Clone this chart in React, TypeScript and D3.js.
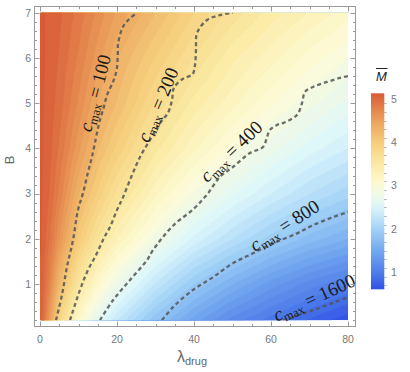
import * as d3 from 'd3';
import { useMemo } from 'react';

// grid of the density plot
const lambdaGrid = [0, 2.5, 5, 10, 15, 20, 30, 40, 50, 60, 70, 80];
const bGrid = [0.2, 1, 2, 3, 4, 5, 6, 7];
const mBarRows = [
  [5.13, 4.5, 3.85, 3.1, 2.65, 2.3, 1.82, 1.45, 1.15, 0.95, 0.78, 0.63],
  [5.13, 4.73, 4.23, 3.55, 3.11, 2.78, 2.28, 1.9, 1.6, 1.35, 1.15, 1.0],
  [5.13, 4.9, 4.59, 4.02, 3.61, 3.29, 2.84, 2.47, 2.2, 1.95, 1.75, 1.6],
  [5.13, 4.99, 4.77, 4.3, 3.97, 3.66, 3.22, 2.89, 2.62, 2.4, 2.2, 2.04],
  [5.13, 5.03, 4.88, 4.53, 4.21, 3.97, 3.53, 3.22, 2.96, 2.74, 2.55, 2.4],
  [5.13, 5.05, 4.95, 4.68, 4.39, 4.19, 3.78, 3.46, 3.23, 3.01, 2.83, 2.67],
  [5.13, 5.07, 4.99, 4.78, 4.54, 4.31, 3.99, 3.69, 3.42, 3.24, 3.05, 2.9],
  [5.13, 5.07, 5.02, 4.86, 4.67, 4.48, 4.2, 3.9, 3.66, 3.45, 3.29, 3.14],
];

// c_max contour lines, [lambda, B]
const cmax100 = [[4.16, 0.2], [5.71, 0.76], [7.01, 1.38], [8.57, 1.97], [9.87, 2.64], [11.17, 3.01], [12.47, 3.48], [13.5, 3.81], [14.8, 4.34], [15.58, 4.63], [16.6, 4.92], [17.4, 5.18], [18.96, 5.47], [19.9, 5.73], [20.2, 6.07], [20.3, 6.33], [21.56, 6.69], [23.4, 6.88], [25.2, 7.0]];
const cmax200 = [[7.79, 0.2], [10.39, 0.87], [12.47, 1.31], [14.55, 1.64], [16.62, 2.02], [18.18, 2.26], [20.0, 2.64], [21.56, 2.92], [23.9, 3.41], [25.97, 3.81], [28.57, 4.19], [31.17, 4.56], [33.25, 4.79], [34.29, 5.07], [34.8, 5.34], [37.14, 5.54], [39.6, 5.64], [40.26, 5.84], [40.52, 6.18], [40.78, 6.55], [43.38, 6.84], [46.75, 6.95], [50.13, 7.0]];
const cmax400 = [[15.58, 0.2], [18.96, 0.64], [23.38, 1.09], [27.8, 1.53], [29.35, 1.75], [34.55, 2.29], [39.74, 2.65], [43.38, 2.98], [46.75, 3.37], [50.13, 3.59], [54.55, 3.9], [57.92, 4.03], [58.96, 4.25], [59.74, 4.41], [61.56, 4.52], [63.1, 4.56], [66.75, 4.74], [68.05, 5.0], [68.83, 5.25], [70.9, 5.36], [74.55, 5.47], [77.92, 5.56], [80, 5.6]];
const cmax800 = [[31.69, 0.2], [34.55, 0.49], [39.74, 0.87], [44.94, 1.15], [50.13, 1.46], [55.32, 1.68], [60.52, 1.9], [66.75, 2.12], [70.9, 2.3], [76.1, 2.48], [80, 2.59]];
const cmax1600 = [[63.1, 0.2], [70.9, 0.42], [80, 0.71]];

const contourSeries = [
  { c: 100, pts: cmax100 },
  { c: 200, pts: cmax200 },
  { c: 400, pts: cmax400 },
  { c: 800, pts: cmax800 },
  { c: 1600, pts: cmax1600 },
];

const xMajor = [0, 20, 40, 60, 80];
const yMajor = [1, 2, 3, 4, 5, 6, 7];
const barMajor = [1, 2, 3, 4, 5];

// label placement (layout, not data)
const labelSpots = [
  { c: 100, lam: 14.5, b: 5.22, angle: -75 },
  { c: 200, lam: 30.8, b: 4.96, angle: -67 },
  { c: 400, lam: 49.8, b: 3.92, angle: -44 },
  { c: 800, lam: 63.6, b: 2.28, angle: -32.5 },
  { c: 1600, lam: 71.3, b: 0.68, angle: -24.6 },
];

const colorValues = [0.61, 1.0, 1.5, 2.0, 2.5, 3.0, 3.5, 4.0, 4.5, 5.13];
const colorHexes = ['#3151e7', '#4f7ee9', '#72a8ef', '#a2d2f6', '#dbf6fb', '#fdfcd8', '#fbeaa3', '#f5cd7b', '#eba15c', '#d95b36'];

const x = d3.scaleLinear().domain([0, 80]).range([40, 348]);
const y = d3.scaleLinear().domain([0.2, 7]).range([320.2, 12.8]);
const cb = d3.scaleLinear().domain([0.61, 5.13]).range([289.3, 93.3]);
const color = d3.scaleLinear<string>().domain(colorValues).range(colorHexes).interpolate(d3.interpolateRgb).clamp(true);

const frame = { left: 34.5, right: 355.5, top: 6.5, bottom: 326.5 };
const tickFont = 'Liberation Sans, Arial, sans-serif';
const serif = 'Liberation Serif, Times New Roman, serif';

function mBarAt(lam: number, b: number) {
  const i = Math.max(0, Math.min(lambdaGrid.length - 2, d3.bisectRight(lambdaGrid, lam) - 1));
  const j = Math.max(0, Math.min(bGrid.length - 2, d3.bisectRight(bGrid, b) - 1));
  const tx = (lam - lambdaGrid[i]) / (lambdaGrid[i + 1] - lambdaGrid[i]);
  const ty = (b - bGrid[j]) / (bGrid[j + 1] - bGrid[j]);
  const r0 = mBarRows[j];
  const r1 = mBarRows[j + 1];
  const v0 = r0[i] * (1 - tx) + r0[i + 1] * tx;
  const v1 = r1[i] * (1 - tx) + r1[i + 1] * tx;
  return v0 * (1 - ty) + v1 * ty;
}

const NX = 154;
const NY = 154;

export default function App() {
  const bands = useMemo(() => {
    const [x0, x1] = x.range();
    const [y1, y0] = y.range();
    const values = new Array(NX * NY);
    for (let gy = 0; gy < NY; gy++) {
      const b = y.invert(y0 + ((gy + 0.5) / NY) * (y1 - y0));
      for (let gx = 0; gx < NX; gx++) {
        const lam = x.invert(x0 + ((gx + 0.5) / NX) * (x1 - x0));
        values[gy * NX + gx] = mBarAt(lam, b);
      }
    }
    const levels = d3.range(0.7, 5.15, 0.1);
    return d3.contours().size([NX, NY]).thresholds(levels)(values);
  }, []);

  const geo = d3.geoPath();
  const line = d3.line<number[]>().x((d) => x(d[0])).y((d) => y(d[1])).curve(d3.curveCatmullRom.alpha(0.5));

  const [px0, px1] = x.range();
  const [py1, py0] = y.range();
  const sx = (px1 - px0) / NX;
  const sy = (py1 - py0) / NY;

  const xMinor = d3.range(0, 81, 5).filter((v) => !xMajor.includes(v));
  const yMinor = d3.range(2, 71, 2).map((v) => v / 10).filter((v) => !Number.isInteger(v));
  const barTicks = d3.range(7, 51, 2).map((v) => v / 10);

  const gradStops = d3.range(0, 21).map((k) => {
    const v = 0.61 + (k / 20) * (5.13 - 0.61);
    return { off: k / 20, col: color(v) };
  });

  return (
    <svg width={410} height={372} style={{ position: 'absolute', left: 0, top: 0, background: '#fff' }}>
      <defs>
        <linearGradient id="mbar-grad" x1="0" y1="1" x2="0" y2="0">
          {gradStops.map((s) => (
            <stop key={s.off} offset={s.off} stopColor={s.col} />
          ))}
        </linearGradient>
        <clipPath id="plot-clip">
          <rect x={px0} y={py0} width={px1 - px0} height={py1 - py0} />
        </clipPath>
      </defs>

      <g clipPath="url(#plot-clip)">
        <rect x={px0} y={py0} width={px1 - px0} height={py1 - py0} fill={color(0.65)} />
        <g transform={`translate(${px0},${py0}) scale(${sx},${sy})`}>
          {bands.map((band) => (
            <path key={band.value} d={geo(band as any) || ''} fill={color(band.value + 0.05)} stroke={color(band.value + 0.05)} strokeWidth={0.3} />
          ))}
        </g>
        {contourSeries.map((s) => (
          <path key={s.c} d={line(s.pts) || ''} fill="none" stroke="#555" strokeOpacity={0.85} strokeWidth={2.3} strokeDasharray="4 3" />
        ))}
      </g>

      {labelSpots.map((l) => (
        <text key={l.c} transform={`translate(${x(l.lam)},${y(l.b)}) rotate(${l.angle})`} y={5.5} textAnchor="middle" fontFamily={serif} fontSize={19} fill="#1a1a1a">
          <tspan fontStyle="italic">c</tspan>
          <tspan fontSize={12.5} dy={3.5}>max</tspan>
          <tspan dy={-3.5}>{` = ${l.c}`}</tspan>
        </text>
      ))}

      {/* frame */}
      <rect x={frame.left} y={frame.top} width={frame.right - frame.left} height={frame.bottom - frame.top} fill="none" stroke="#9a9a9a" strokeWidth={1} />
      {xMajor.concat(xMinor).map((v) => {
        const len = xMajor.includes(v) ? 5 : 2.5;
        const px = Math.round(x(v)) + 0.5;
        return (
          <g key={`xt${v}`} stroke="#9a9a9a">
            <line x1={px} x2={px} y1={frame.bottom} y2={frame.bottom - len} />
            <line x1={px} x2={px} y1={frame.top} y2={frame.top + len} />
          </g>
        );
      })}
      {yMajor.concat(yMinor).map((v) => {
        const len = yMajor.includes(v) ? 5 : 2.5;
        const py = Math.round(y(v)) + 0.5;
        return (
          <g key={`yt${v}`} stroke="#9a9a9a">
            <line x1={frame.left} x2={frame.left + len} y1={py} y2={py} />
            <line x1={frame.right} x2={frame.right - len} y1={py} y2={py} />
          </g>
        );
      })}
      {xMajor.map((v) => (
        <text key={`xl${v}`} x={x(v)} y={343} textAnchor="middle" fontFamily={tickFont} fontSize={10.5} fill="#777">{v}</text>
      ))}
      {yMajor.map((v) => (
        <text key={`yl${v}`} x={31} y={y(v) + 3.8} textAnchor="end" fontFamily={tickFont} fontSize={10.5} fill="#777">{v}</text>
      ))}

      {/* axis labels */}
      <text x={177} y={362} fontFamily={tickFont} fill="#666">
        <tspan fontSize={16}>λ</tspan>
        <tspan fontSize={11} dy={2.5}>drug</tspan>
      </text>
      <text transform="translate(14,160) rotate(-90)" textAnchor="middle" fontFamily={tickFont} fontSize={13} fill="#666">B</text>

      {/* colour bar */}
      <rect x={371} y={cb.range()[1]} width={13.3} height={cb.range()[0] - cb.range()[1]} fill="url(#mbar-grad)" />
      {barTicks.map((v) => (
        <line key={`cb${v}`} x1={384.3} x2={barMajor.includes(v) ? 388 : 386.5} y1={Math.round(cb(v)) + 0.5} y2={Math.round(cb(v)) + 0.5} stroke="#aaa" />
      ))}
      {barMajor.map((v) => (
        <text key={`cbl${v}`} x={391} y={cb(v) + 3.8} fontFamily={tickFont} fontSize={10.5} fill="#777">{v}</text>
      ))}
      <text x={381.5} y={81} textAnchor="middle" fontFamily={tickFont} fontStyle="italic" fontSize={13} fill="#222">M</text>
      <line x1={376} x2={387.5} y1={68.5} y2={68.5} stroke="#222" strokeWidth={1} />
    </svg>
  );
}
